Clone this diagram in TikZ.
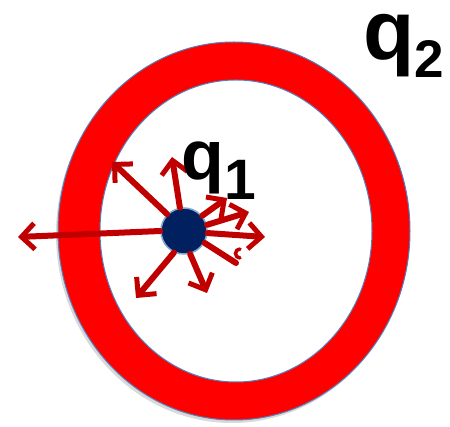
\documentclass[tikz,border=0pt]{standalone}
\usepackage{fontspec}
\setmainfont{Liberation Sans}
\usetikzlibrary{arrows.meta}
\definecolor{ringred}{RGB}{255,0,0}
\definecolor{ringedge}{RGB}{79,129,189}
\definecolor{arrowred}{RGB}{192,0,0}
\definecolor{navy}{RGB}{0,32,96}
\begin{document}
\begin{tikzpicture}[x=1pt,y=-1pt,
  field/.style={draw=arrowred,line cap=round,line join=round,line width=6pt,
    -{Straight Barb[length=13pt,width=26pt,line width=5pt]}},
  lbl/.style={font=\bfseries,inner sep=0pt,anchor=base west}]
\useasboundingbox (0,0) rectangle (450,427);
% ring
\fill[black!15] (232,234) ellipse [x radius=176,y radius=189];
\filldraw[fill=ringred,draw=ringedge,line width=1pt] (234,231) ellipse [x radius=176,y radius=189];
\filldraw[fill=white,draw=ringedge,line width=1pt] (236,231) ellipse [x radius=136,y radius=151];
% charge
\node[circle,fill=navy,draw=ringedge!70,line width=1.5pt,minimum size=46pt,inner sep=0pt] (q) at (184,231) {};
\coordinate (a1) at (18,237);
\coordinate (a2) at (112,162);
\coordinate (a3) at (172,157);
\coordinate (a4) at (227,198);
\coordinate (a5) at (249,212);
\coordinate (a6) at (265,237);
\coordinate (a7) at (236,263);
\coordinate (a8) at (207,293);
\coordinate (a9) at (136,298);
\draw[field] (q.west) -- (a1);
\draw[field] (q.135) -- (a2);
\draw[field] (q.100) -- (a3);
\draw[field] (q.40) -- (a4);
\draw[field] (q.15) -- (a5);
\draw[field] (q.-5) -- (a6);
\draw[draw=arrowred,line width=6pt,line cap=round] (q.-30) -- (a7);
\draw[draw=arrowred,line width=3.5pt,line cap=round] (240,258) arc[start angle=-90,end angle=90,radius=-4.5];
\draw[field] (q.-75) -- (a8);
\draw[field] (q.-115) -- (a9);
% labels
\node[lbl,font=\bfseries\fontsize{70}{70}\selectfont] (q1) at (181,180) {q};
\node[lbl,font=\bfseries\fontsize{57}{57}\selectfont] (s1) at (q1.base east) [yshift=-20pt] {1};
\node[lbl,font=\bfseries\fontsize{84}{84}\selectfont] (q2) at (363,60) {\smash{q}};
\node[lbl,font=\bfseries\fontsize{53}{53}\selectfont] (s2) at (q2.base east) [yshift=-18pt] {2};
\end{tikzpicture}
\end{document}
